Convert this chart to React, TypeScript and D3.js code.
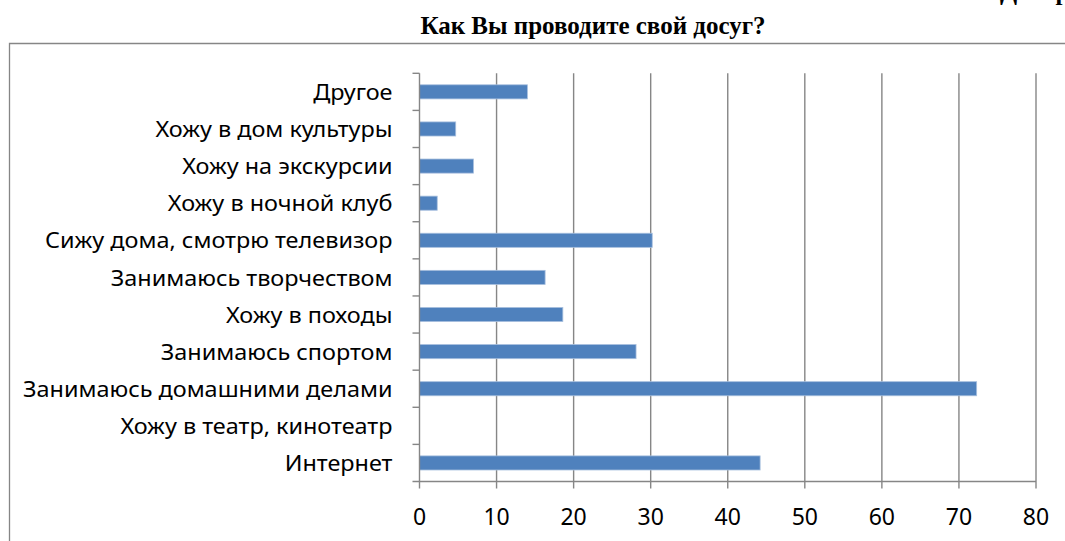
import { useEffect, useRef } from 'react'
import * as d3 from 'd3'

// categories listed from the bottom of the chart up (Excel order)
const categories = [
  'Интернет',
  'Хожу в театр, кинотеатр',
  'Занимаюсь домашними делами',
  'Занимаюсь спортом',
  'Хожу в походы',
  'Занимаюсь творчеством',
  'Сижу дома, смотрю телевизор',
  'Хожу в ночной клуб',
  'Хожу на экскурсии',
  'Хожу в дом культуры',
  'Другое',
]
const values = [44.2, 0, 72.3, 28.1, 18.6, 16.3, 30.2, 2.3, 7, 4.7, 14]
const xTicks = [0, 10, 20, 30, 40, 50, 60, 70, 80]
const title = 'Как Вы проводите свой досуг?'

const W = 1065
const H = 541
const plot = { left: 419.5, right: 1036, top: 73.3, bottom: 481.5 }
const barColor = '#4F81BD'
const gridColor = '#868686'
const sans = '"Noto Sans", sans-serif'
const serif = '"Liberation Serif", serif'

export default function App() {
  const svgRef = useRef<SVGSVGElement>(null)

  useEffect(() => {
    document.body.style.margin = '0'
    if (!svgRef.current) return
    const svg = d3.select(svgRef.current)
    svg.selectAll('*').remove()

    const x = d3.scaleLinear().domain([0, 80]).range([plot.left, plot.right])
    const y = d3
      .scaleBand<string>()
      .domain([...categories].reverse())
      .range([plot.top, plot.bottom])
      .paddingInner(0.62)
      .paddingOuter(0.31)

    // outer chart border (runs off the page on right and bottom)
    svg
      .append('path')
      .attr('d', `M9.5,${H + 5}V43.5H${W + 5}`)
      .attr('fill', 'none')
      .attr('stroke', gridColor)
      .attr('stroke-width', 1.3)

    // caption of the page, cut off at the top like in the scan
    svg
      .append('text')
      .attr('x', 1000)
      .attr('y', 0)
      .attr('font-family', serif)
      .attr('font-weight', 'bold')
      .attr('font-size', 25)
      .text('Диаграмма 1')

    svg
      .append('text')
      .attr('x', 593)
      .attr('y', 34)
      .attr('text-anchor', 'middle')
      .attr('font-family', serif)
      .attr('font-weight', 'bold')
      .attr('font-size', 25)
      .text(title)

    // vertical gridlines + ticks below axis
    svg
      .append('g')
      .selectAll('line')
      .data(xTicks.slice(1))
      .join('line')
      .attr('x1', (d) => x(d))
      .attr('x2', (d) => x(d))
      .attr('y1', plot.top)
      .attr('y2', plot.bottom + 7)
      .attr('stroke', gridColor)
      .attr('stroke-width', 1.4)

    // bars
    svg
      .append('g')
      .selectAll('rect')
      .data(categories.map((c, i) => ({ c, v: values[i] })).filter((d) => d.v > 0))
      .join('rect')
      .attr('x', x(0))
      .attr('y', (d) => y(d.c) ?? 0)
      .attr('width', (d) => x(d.v) - x(0))
      .attr('height', y.bandwidth())
      .attr('fill', barColor)
      .attr('stroke', '#A7BFDE')
      .attr('stroke-width', 0.8)

    // y axis line and category ticks
    svg
      .append('line')
      .attr('x1', plot.left)
      .attr('x2', plot.left)
      .attr('y1', plot.top)
      .attr('y2', plot.bottom)
      .attr('stroke', gridColor)
      .attr('stroke-width', 1.4)
    const step = y.step()
    svg
      .append('g')
      .selectAll('line')
      .data(d3.range(categories.length))
      .join('line')
      .attr('x1', plot.left - 7)
      .attr('x2', plot.left)
      .attr('y1', (i) => plot.top + i * step)
      .attr('y2', (i) => plot.top + i * step)
      .attr('stroke', gridColor)
      .attr('stroke-width', 1.4)

    // x axis line
    svg
      .append('line')
      .attr('x1', plot.left - 7)
      .attr('x2', plot.right)
      .attr('y1', plot.bottom)
      .attr('y2', plot.bottom)
      .attr('stroke', gridColor)
      .attr('stroke-width', 1.4)
    svg
      .append('line')
      .attr('x1', plot.left)
      .attr('x2', plot.left)
      .attr('y1', plot.bottom)
      .attr('y2', plot.bottom + 7)
      .attr('stroke', gridColor)
      .attr('stroke-width', 1.4)

    // x tick labels
    svg
      .append('g')
      .selectAll('text')
      .data(xTicks)
      .join('text')
      .attr('x', (d) => x(d))
      .attr('y', 525)
      .attr('text-anchor', 'middle')
      .attr('font-family', sans)
      .attr('font-size', 23)
      .attr('fill', '#000')
      .text((d) => d)

    // category labels (slightly stretched, like the scanned original)
    svg
      .append('g')
      .selectAll('text')
      .data(categories)
      .join('text')
      .attr(
        'transform',
        (d) => `translate(${plot.left - 27},${(y(d) ?? 0) + y.bandwidth() / 2}) scale(1.1,1)`,
      )
      .attr('dy', '0.38em')
      .attr('text-anchor', 'end')
      .attr('font-family', sans)
      .attr('font-size', 21.3)
      .attr('fill', '#000')
      .text((d) => d)
  }, [])

  return <svg ref={svgRef} width={W} height={H} style={{ display: 'block' }} />
}
